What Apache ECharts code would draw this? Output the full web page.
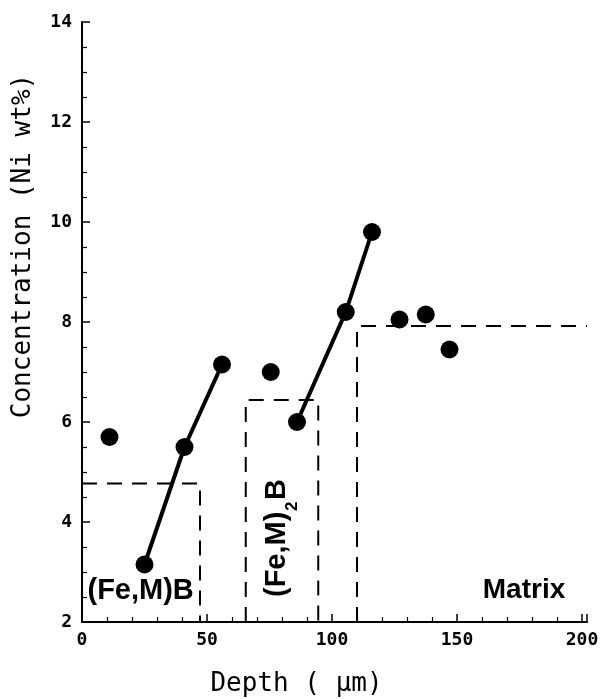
<!DOCTYPE html>
<html><head><meta charset="utf-8">
<script src="https://cdn.jsdelivr.net/npm/echarts@6/dist/echarts.min.js"></script>
<style>html,body{margin:0;padding:0;background:#fff}#c{width:604px;height:699px}</style>
</head><body><div id="c"></div>
<script>
// Measured points: depth (µm) vs Ni concentration (wt%)
const depth = [11, 25, 41, 56, 75.5, 86, 105.5, 116, 127, 137.5, 147];
const conc  = [5.7, 3.15, 5.5, 7.15, 7.0, 6.0, 8.2, 9.8, 8.05, 8.15, 7.45];
// Solid trend lines
const fit1Depth = [25, 41, 56];
const fit1Conc  = [3.15, 5.5, 7.15];
const fit2Depth = [86, 105.5, 116];
const fit2Conc  = [6.0, 8.2, 9.8];
// Dashed reference levels
const feMBDepth  = [0, 47.2, 47.2];
const feMBConc   = [4.77, 4.77, 2];
const feM2BDepth = [65.5, 65.5, 94.5, 94.5];
const feM2BConc  = [2, 6.44, 6.44, 2];
const matrixDepth = [110, 110, 202];
const matrixConc  = [2, 7.92, 7.92];
// Tick labels
const xTickLabels = [0, 50, 100, 150, 200];
const yTickLabels = [2, 4, 6, 8, 10, 12, 14];

const zip = (a, b) => a.map((v, i) => [v, b[i]]);
const chart = echarts.init(document.getElementById('c'), null, {renderer: 'canvas'});
const monoFont = 'DejaVu Sans Mono';
const axisCommon = {
  axisLine: {show: true, onZero: false, lineStyle: {color: '#000', width: 2}},
  axisTick: {show: true, inside: true, length: 8, lineStyle: {color: '#000', width: 1.5}},
  minorTick: {show: true, length: 5, lineStyle: {color: '#000', width: 1.2}},
  splitLine: {show: false},
  minorSplitLine: {show: false}
};
const dashed = {color: '#000', width: 2, type: [15, 10]};
chart.setOption({
  animation: false,
  backgroundColor: '#fff',
  grid: {left: 82, right: 17, top: 22, bottom: 77, containLabel: false},
  xAxis: Object.assign({
    type: 'value', min: 0, max: 202, interval: 50,
    axisLabel: {color: '#000', fontFamily: monoFont, fontWeight: 'bold', fontSize: 18, margin: 9,
      formatter: v => xTickLabels.includes(v) ? String(v) : ''}
  }, axisCommon, {minorTick: Object.assign({}, axisCommon.minorTick, {splitNumber: 5})}),
  yAxis: Object.assign({
    type: 'value', min: 2, max: 14, interval: 2,
    axisLabel: {color: '#000', fontFamily: monoFont, fontWeight: 'bold', fontSize: 18, margin: 10,
      formatter: v => yTickLabels.includes(v) ? String(v) : ''}
  }, axisCommon, {minorTick: Object.assign({}, axisCommon.minorTick, {splitNumber: 4})}),
  series: [
    {type: 'line', data: zip(feMBDepth, feMBConc), showSymbol: false, lineStyle: dashed, silent: true},
    {type: 'line', data: zip(feM2BDepth, feM2BConc), showSymbol: false, lineStyle: dashed, silent: true},
    {type: 'line', data: zip(matrixDepth, matrixConc), showSymbol: false, lineStyle: dashed, silent: true},
    {type: 'line', data: zip(fit1Depth, fit1Conc), showSymbol: false, lineStyle: {color: '#000', width: 4}},
    {type: 'line', data: zip(fit2Depth, fit2Conc), showSymbol: false, lineStyle: {color: '#000', width: 4}},
    {type: 'scatter', data: zip(depth, conc), symbol: 'circle', symbolSize: 18,
      itemStyle: {color: '#000', opacity: 1}, z: 5}
  ]
});

const px = (x, y) => chart.convertToPixel({gridIndex: 0}, [x, y]);
const sans = 'Liberation Sans, Arial, sans-serif';
const txt = (text, x, y, font, align, valign) => ({
  type: 'text', x: x, y: y,
  style: {text: text, font: font, fill: '#000', textAlign: align, textVerticalAlign: valign,
          align: align, verticalAlign: valign}
});
const a1 = px(2.2, 2.62);
const a2 = px(176.8, 2.64);
const a3 = px(82, 2.5);
const tx = px(85.8, 0.76);
const ty = px(-23.6, 9.52);
chart.setOption({
  graphic: [
    txt('(Fe,M)B', a1[0], a1[1], 'bold 29px ' + sans, 'left', 'middle'),
    txt('Matrix', a2[0], a2[1], 'bold 28px ' + sans, 'center', 'middle'),
    {type: 'group', x: a3[0], y: a3[1], rotation: Math.PI / 2, children: [
      txt('(Fe,M)', 0, -10, 'bold 29px ' + sans, 'left', 'middle'),
      txt('2', 86, 5, 'bold 17px ' + sans, 'left', 'middle'),
      txt('B', 97, -10, 'bold 29px ' + sans, 'left', 'middle')
    ]},
    txt('Depth ( \u03bcm)', tx[0], tx[1], '26px ' + monoFont, 'center', 'middle'),
    {type: 'group', x: ty[0], y: ty[1], rotation: Math.PI / 2, children: [
      txt('Concentration (Ni wt%)', 0, 0, '26px ' + monoFont, 'center', 'middle')
    ]}
  ]
});
</script>
</body></html>
